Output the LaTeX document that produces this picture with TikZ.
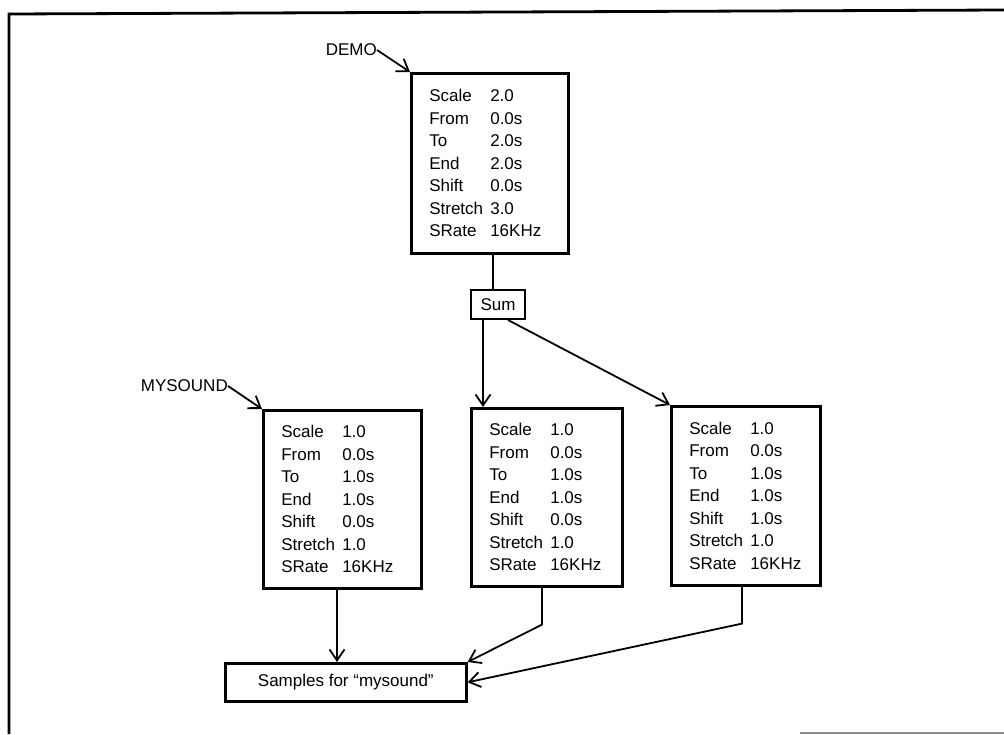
\documentclass[tikz,border=0pt]{standalone}
\usepackage{fontspec}
\setmainfont{Liberation Sans}
\usetikzlibrary{arrows.meta}
\newcommand{\pl}[2]{\makebox[61pt][l]{#1}#2}
\tikzset{
  parbox/.style={draw, line width=2.6pt, anchor=north west, inner xsep=18pt, inner ysep=0pt,
    align=left, font=\fontsize{17}{22.5}\selectfont},
  smallbox/.style={draw, line width=2pt, anchor=north west, inner sep=0pt,
    font=\fontsize{17}{20}\selectfont},
  lbl/.style={inner sep=0pt, font=\fontsize{17}{20}\selectfont},
  conn/.style={line width=1.8pt},
  arr/.style={conn, -{Straight Barb[length=11pt,width=15pt,line width=1.8pt]}}
}
\begin{document}
\begin{tikzpicture}[x=1pt,y=-1pt]
\useasboundingbox (0,0) rectangle (1004,734);
% outer frame
\draw[line width=2.8pt] (1004,10) -- (9,14) -- (9,734);
\draw[black!45, line width=1.5pt] (800,733) -- (1004,733);

% boxes
\node[parbox, text width=121pt, minimum height=180pt] (demo) at (410,72)
  {\pl{Scale}{2.0}\\ \pl{From}{0.0s}\\ \pl{To}{2.0s}\\ \pl{End}{2.0s}\\ \pl{Shift}{0.0s}\\ \pl{Stretch}{3.0}\\ \pl{SRate}{16KHz}};
\node[smallbox, minimum width=54pt, minimum height=29pt] (sum) at (470,289) {Sum};
\node[parbox, text width=122pt, minimum height=178pt] (b1) at (262,409)
  {\pl{Scale}{1.0}\\ \pl{From}{0.0s}\\ \pl{To}{1.0s}\\ \pl{End}{1.0s}\\ \pl{Shift}{0.0s}\\ \pl{Stretch}{1.0}\\ \pl{SRate}{16KHz}};
\node[parbox, text width=115pt, minimum height=178pt] (b2) at (470,407)
  {\pl{Scale}{1.0}\\ \pl{From}{0.0s}\\ \pl{To}{1.0s}\\ \pl{End}{1.0s}\\ \pl{Shift}{0.0s}\\ \pl{Stretch}{1.0}\\ \pl{SRate}{16KHz}};
\node[parbox, text width=113pt, minimum height=179pt] (b3) at (670,405)
  {\pl{Scale}{1.0}\\ \pl{From}{0.0s}\\ \pl{To}{1.0s}\\ \pl{End}{1.0s}\\ \pl{Shift}{1.0s}\\ \pl{Stretch}{1.0}\\ \pl{SRate}{16KHz}};
\node[smallbox, line width=2.6pt, minimum width=241pt, minimum height=38pt] (samples) at (224,662)
  {Samples for “mysound”};

% labels
\node[lbl, anchor=east] (dlabel) at (377,50) {DEMO};
\node[lbl, anchor=east] (mlabel) at (228,386) {MYSOUND};

% connectors
\draw[arr] (dlabel.east) -- (demo.north west);
\draw[arr] (mlabel.east) -- (b1.north west);

\coordinate (d1) at ([xshift=83pt]demo.south west);
\draw[conn] (d1) -- (d1 |- sum.north);

\coordinate (s1) at ([xshift=13pt]sum.south west);
\coordinate (s2) at ([xshift=38pt]sum.south west);
\draw[arr] (s1) -- (s1 |- b2.north);
\draw[arr] (s2) -- (b3.north west);

\coordinate (p1) at ([xshift=75pt]b1.south west);
\coordinate (p2) at ([xshift=72pt]b2.south west);
\coordinate (p3) at ([xshift=72pt]b3.south west);
\draw[arr] (p1) -- (p1 |- samples.north);
\draw[arr] (p2) -- ++(0,37) -- (samples.north east);
\draw[arr] (p3) -- ++(0,37) -- (samples.east);
\end{tikzpicture}
\end{document}
